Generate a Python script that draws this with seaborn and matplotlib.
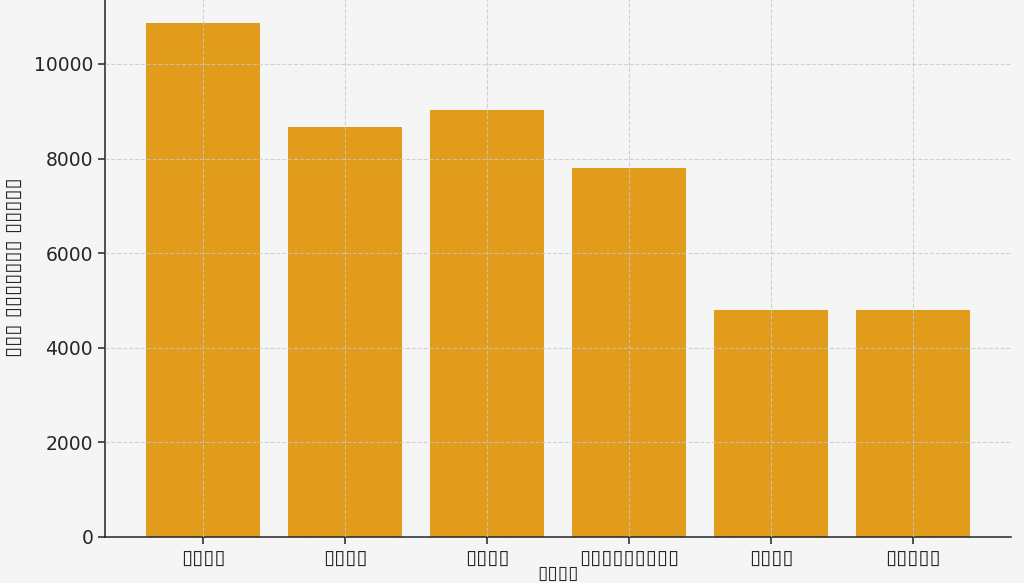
import numpy as np
import pandas as pd
import seaborn as sns
import matplotlib.pyplot as plt

sns.set_style("ticks")
plt.rcParams['font.family'] = ['DejaVu Sans']

# labels in the source picture only show as empty boxes, kept as such
categories = ["▯▯▯▯", "▯▯▯▯", "▯▯▯▯", "▯▯▯▯▯▯▯▯▯", "▯▯▯▯", "▯▯▯▯▯"]
values = [10870, 8670, 9030, 7800, 4800, 4800]
x_title = "▯▯▯▯"
y_title = "▯▯▯ ▯▯▯▯▯▯▯ ▯▯▯▯▯"

df = pd.DataFrame({"cat": range(len(categories)), "val": values})

bg = "#f5f5f5"
fig = plt.figure(figsize=(10.24, 5.83), dpi=100, facecolor=bg)
ax = fig.add_axes([0.1025, 0.079, 0.885, 0.926])
ax.set_facecolor(bg)

sns.barplot(data=df, x="cat", y="val", color="#e09c1a", saturation=1,
            width=0.8, linewidth=0, ax=ax)

n = len(categories)
ax.set_xlim(-0.4 - 0.29, n - 0.6 + 0.29)
ax.set_ylim(0, max(values) * 1.05)
ax.set_xticks(range(n))
ax.set_xticklabels(categories, fontsize=14.5)
ax.tick_params(axis="y", labelsize=13.5)
ax.tick_params(length=5, width=1.1, color="#222222")
ax.set_xlabel(x_title, fontsize=13.5, va="top")
ax.xaxis.set_label_coords(0.5, -0.05)
ax.set_ylabel(y_title, fontsize=14.5, labelpad=7)

ax.grid(True, linestyle="--", color="#c8c8c8", linewidth=0.8, alpha=0.8)
ax.set_axisbelow(False)
sns.despine(ax=ax)
for s in ["left", "bottom"]:
    ax.spines[s].set_linewidth(1.1)
    ax.spines[s].set_color("#222222")

fig.savefig("out.png", dpi=100, facecolor=bg)
